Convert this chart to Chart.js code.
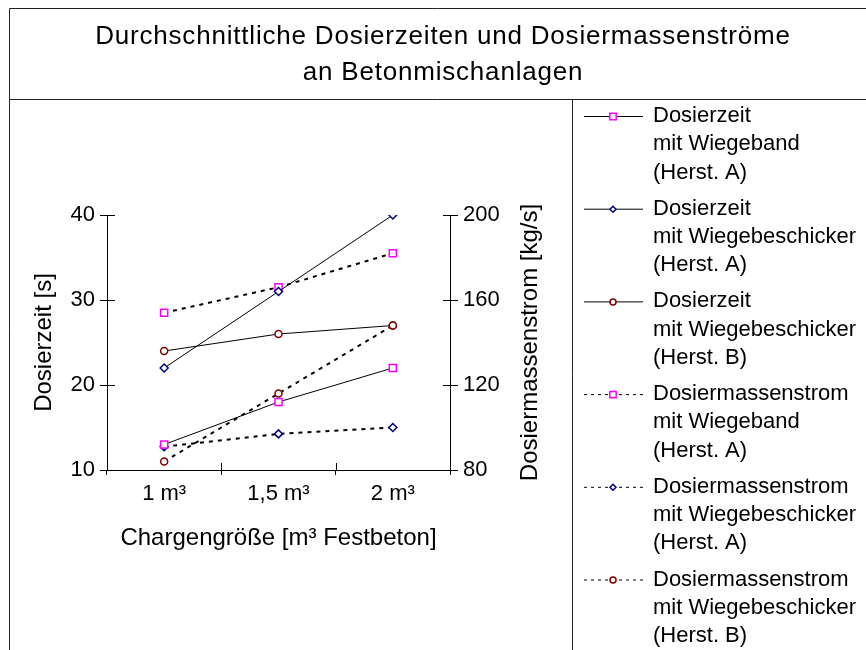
<!DOCTYPE html>
<html>
<head>
<meta charset="utf-8">
<script src="https://cdn.jsdelivr.net/npm/chart.js@4/dist/chart.umd.min.js"></script>
<style>
    html, body { margin: 0; padding: 0; background: #fff; }
    #wrap { width: 866px; height: 650px; }
</style>
</head>
<body>
<div id="wrap"><canvas id="myChart" width="866" height="650"></canvas></div>
<script>
// data
const categories = ['1 m³', '1,5 m³', '2 m³'];
const leftTicks = [10, 20, 30, 40];
const rightTicks = [80, 120, 160, 200];

const zeitBandA = [13, 18, 22];
const zeitBeschickerA = [22, 31, 40];
const zeitBeschickerB = [24, 26, 27];
const stromBandA = [154, 166, 182];
const stromBeschickerA = [91, 97, 100];
const stromBeschickerB = [84, 116, 148];

const legendTexts = [
    ['Dosierzeit', 'mit Wiegeband', '(Herst. A)'],
    ['Dosierzeit', 'mit Wiegebeschicker', '(Herst. A)'],
    ['Dosierzeit', 'mit Wiegebeschicker', '(Herst. B)'],
    ['Dosiermassenstrom', 'mit Wiegeband', '(Herst. A)'],
    ['Dosiermassenstrom', 'mit Wiegebeschicker', '(Herst. A)'],
    ['Dosiermassenstrom', 'mit Wiegebeschicker', '(Herst. B)']
];

const FONT = "'Liberation Sans', Arial, sans-serif";
const MAGENTA = '#ff00ff';
const NAVY = '#000080';
const DARKRED = '#800000';

function series(label, data, axis, style, color, radius, dotted) {
    return {
        label: label,
        data: data,
        yAxisID: axis,
        borderColor: '#000',
        borderWidth: dotted ? 2 : 1,
        borderDash: dotted ? [4, 5] : [],
        tension: 0,
        fill: false,
        pointStyle: style,
        pointRadius: radius,
        pointHoverRadius: radius,
        pointBorderColor: color,
        pointBackgroundColor: '#fff',
        pointBorderWidth: 1.5
    };
}

const datasets = [
    series(legendTexts[0].join(' '), zeitBandA, 'y', 'rect', MAGENTA, 5, false),
    series(legendTexts[1].join(' '), zeitBeschickerA, 'y', 'rectRot', NAVY, 4, false),
    series(legendTexts[2].join(' '), zeitBeschickerB, 'y', 'circle', DARKRED, 3.5, false),
    series(legendTexts[3].join(' '), stromBandA, 'y1', 'rect', MAGENTA, 5, true),
    series(legendTexts[4].join(' '), stromBeschickerA, 'y1', 'rectRot', NAVY, 4, true),
    series(legendTexts[5].join(' '), stromBeschickerB, 'y1', 'circle', DARKRED, 3.5, true)
];

// frame, title, right axis title, inner tick halves and legend
const framePlugin = {
    id: 'frame',
    beforeDraw(chart) {
        const ctx = chart.ctx;
        ctx.save();
        ctx.fillStyle = '#fff';
        ctx.fillRect(0, 0, chart.width, chart.height);
        ctx.restore();
    },
    afterDraw(chart) {
        const ctx = chart.ctx;
        const area = chart.chartArea;
        ctx.save();

        // borders
        ctx.strokeStyle = '#222';
        ctx.lineWidth = 1;
        ctx.beginPath();
        ctx.moveTo(9.5, 650); ctx.lineTo(9.5, 8.5); ctx.lineTo(866, 8.5);
        ctx.moveTo(9.5, 99.5); ctx.lineTo(866, 99.5);
        ctx.moveTo(572.5, 99.5); ctx.lineTo(572.5, 650);
        ctx.stroke();

        // title
        ctx.fillStyle = '#000';
        ctx.font = '26px ' + FONT;
        ctx.textAlign = 'center';
        ctx.textBaseline = 'middle';
        if ('letterSpacing' in ctx) ctx.letterSpacing = '0.8px';
        ctx.fillText('Durchschnittliche Dosierzeiten und Dosiermassenströme', 443, 37);
        ctx.fillText('an Betonmischanlagen', 443, 73);
        if ('letterSpacing' in ctx) ctx.letterSpacing = '0px';

        // right axis title, reading bottom to top
        const y1 = chart.scales.y1;
        ctx.save();
        ctx.translate(530, (y1.top + y1.bottom) / 2);
        ctx.rotate(-Math.PI / 2);
        ctx.font = '24px ' + FONT;
        ctx.fillText('Dosiermassenstrom [kg/s]', 0, 0);
        ctx.restore();

        // inner halves of the crossing ticks
        ctx.strokeStyle = '#000';
        ctx.lineWidth = 1;
        ctx.beginPath();
        const y = chart.scales.y;
        y.ticks.forEach((t, i) => {
            const py = Math.round(y.getPixelForTick(i)) + 0.5;
            ctx.moveTo(area.left, py); ctx.lineTo(area.left + 8, py);
        });
        y1.ticks.forEach((t, i) => {
            const py = Math.round(y1.getPixelForTick(i)) + 0.5;
            ctx.moveTo(area.right - 7, py); ctx.lineTo(area.right, py);
        });
        const x = chart.scales.x;
        for (let i = 0; i <= categories.length; i++) {
            const px = Math.round(x.getPixelForValue(i - 0.5)) + 0.5;
            ctx.moveTo(px, area.bottom); ctx.lineTo(px, area.bottom - 7);
        }
        ctx.stroke();

        // legend
        ctx.textAlign = 'left';
        ctx.font = '22px ' + FONT;
        chart.data.datasets.forEach((ds, i) => {
            const y0 = 116 + i * 92.7;
            ctx.save();
            ctx.strokeStyle = '#000';
            ctx.lineWidth = 1;
            ctx.setLineDash(ds.borderDash.length ? [3, 4] : []);
            ctx.beginPath();
            ctx.moveTo(584, y0 + 0.5); ctx.lineTo(643, y0 + 0.5);
            ctx.stroke();
            ctx.restore();
            ctx.save();
            ctx.strokeStyle = ds.pointBorderColor;
            ctx.fillStyle = '#fff';
            ctx.lineWidth = 1.5;
            Chart.helpers.drawPoint(ctx, {
                pointStyle: ds.pointStyle,
                radius: ds.pointStyle === 'rect' ? 4.5 : 3,
                borderWidth: 1.5,
                rotation: 0
            }, 613, y0 + 0.5);
            ctx.restore();
            ctx.fillStyle = '#000';
            legendTexts[i].forEach((line, k) => {
                ctx.fillText(line, 653, y0 + k * 28.3);
            });
        });
        ctx.restore();
    }
};

const ctx = document.getElementById('myChart');
const myChart = new Chart(ctx, {
    type: 'line',
    data: {
        labels: categories,
        datasets: datasets
    },
    options: {
        responsive: false,
        animation: false,
        devicePixelRatio: 1,
        layout: {
            padding: { left: 26, right: 319, top: 215, bottom: 93 }
        },
        plugins: {
            legend: { display: false },
            title: { display: false },
            tooltip: { enabled: false }
        },
        scales: {
            x: {
                type: 'category',
                offset: true,
                grid: { drawOnChartArea: false, offset: true, tickLength: 5, color: '#000' },
                border: { color: '#000' },
                ticks: { color: '#000', font: { family: FONT, size: 22 }, padding: 6, maxRotation: 0 },
                title: {
                    display: true,
                    text: 'Chargengröße [m³ Festbeton]',
                    color: '#000',
                    font: { family: FONT, size: 24 },
                    padding: { top: 4, bottom: 4 }
                },
                afterFit: function (scale) { scale.height = 87; }
            },
            y: {
                position: 'left',
                min: leftTicks[0],
                max: leftTicks[leftTicks.length - 1],
                afterBuildTicks: function (scale) { scale.ticks = leftTicks.map(v => ({ value: v })); },
                grid: { drawOnChartArea: false, tickLength: 7, color: '#000' },
                border: { color: '#000' },
                ticks: { color: '#000', font: { family: FONT, size: 22 }, padding: 5 },
                title: {
                    display: true,
                    text: 'Dosierzeit [s]',
                    color: '#000',
                    font: { family: FONT, size: 24 },
                    padding: { top: 4, bottom: 4 }
                },
                afterFit: function (scale) { scale.width = 81; }
            },
            y1: {
                position: 'right',
                min: rightTicks[0],
                max: rightTicks[rightTicks.length - 1],
                afterBuildTicks: function (scale) { scale.ticks = rightTicks.map(v => ({ value: v })); },
                grid: { drawOnChartArea: false, tickLength: 8, color: '#000' },
                border: { color: '#000' },
                ticks: { color: '#000', font: { family: FONT, size: 22 }, padding: 5 },
                title: { display: false },
                afterFit: function (scale) { scale.width = 97; }
            }
        }
    },
    plugins: [framePlugin]
});
</script>
</body>
</html>
